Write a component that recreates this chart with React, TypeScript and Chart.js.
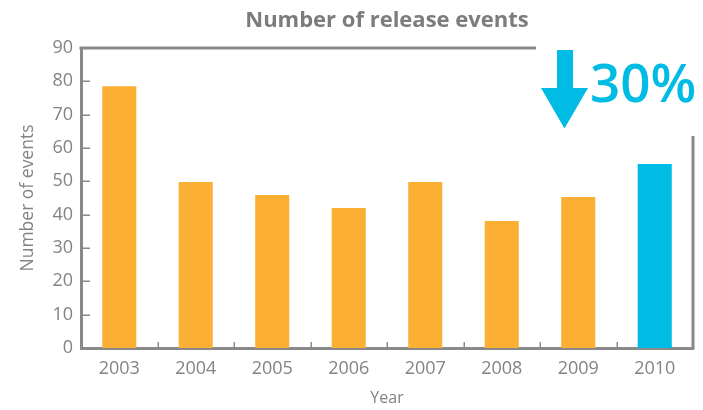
import React, { useEffect, useRef } from "react";
import { Chart, registerables } from "chart.js";

Chart.register(...registerables);

const years = ["2003", "2004", "2005", "2006", "2007", "2008", "2009", "2010"];
const events = [78.5, 49.8, 45.9, 42.0, 49.8, 38.1, 45.3, 55.2];
const barColors = ["#FBB034", "#FBB034", "#FBB034", "#FBB034", "#FBB034", "#FBB034", "#FBB034", "#00BCE4"];
const yTicks = [0, 10, 20, 30, 40, 50, 60, 70, 80, 90];
const titleText = "Number of release events";
const changeText = "30%";

const GRAY = "#838386";
const AXIS = "#89898C";
const FONT = "'Open Sans', 'Noto Sans', sans-serif";

const decorPlugin = {
  id: "decor",
  afterDraw(chart: any) {
    const ctx = chart.ctx;
    const area = chart.chartArea;
    const xs = chart.scales.x;
    const ys = chart.scales.y;
    ctx.save();
    // title
    ctx.fillStyle = "#7C7C7F";
    ctx.font = `bold 22px ${FONT}`;
    ctx.textAlign = "center";
    ctx.textBaseline = "alphabetic";
    ctx.fillText(titleText, (area.left + area.right) / 2, 27);

    ctx.strokeStyle = AXIS;
    // top border (partial)
    ctx.lineWidth = 3;
    ctx.beginPath();
    ctx.moveTo(area.left - 1.5, area.top);
    ctx.lineTo(536, area.top);
    ctx.stroke();
    // right border (partial)
    ctx.beginPath();
    ctx.moveTo(area.right, 136);
    ctx.lineTo(area.right, area.bottom + 1.5);
    ctx.stroke();

    // inner y ticks
    ctx.lineWidth = 1.5;
    for (const v of yTicks) {
      if (v === 0 || v === 90) continue;
      const y = Math.round(ys.getPixelForValue(v)) + 0.25;
      ctx.beginPath();
      ctx.moveTo(area.left, y);
      ctx.lineTo(area.left + 9, y);
      ctx.stroke();
    }
    // inner x ticks between categories
    for (let i = 0; i < years.length - 1; i++) {
      const x = Math.round((xs.getPixelForValue(i) + xs.getPixelForValue(i + 1)) / 2) + 0.25;
      ctx.beginPath();
      ctx.moveTo(x, area.bottom);
      ctx.lineTo(x, area.bottom - 6);
      ctx.stroke();
    }

    // arrow
    ctx.fillStyle = "#00BCE4";
    ctx.beginPath();
    ctx.moveTo(557, 50);
    ctx.lineTo(573, 50);
    ctx.lineTo(573, 88);
    ctx.lineTo(588, 88);
    ctx.lineTo(564.5, 128.5);
    ctx.lineTo(541, 88);
    ctx.lineTo(557, 88);
    ctx.closePath();
    ctx.fill();

    ctx.font = `600 53px ${FONT}`;
    ctx.textAlign = "left";
    ctx.fillText(changeText, 590, 101.5);
    ctx.restore();
  },
};

export default function App() {
  const ref = useRef<HTMLCanvasElement | null>(null);
  useEffect(() => {
    if (!ref.current) return;
    const chart = new Chart(ref.current, {
      type: "bar",
      data: {
        labels: years,
        datasets: [
          {
            data: events,
            backgroundColor: barColors,
            borderWidth: 0,
            barPercentage: 0.445,
            categoryPercentage: 1,
          },
        ],
      },
      options: {
        animation: false,
        responsive: false,
        layout: { padding: { top: 48, right: 10, left: 0, bottom: 0 } },
        plugins: { legend: { display: false }, tooltip: { enabled: false }, title: { display: false } },
        scales: {
          x: {
            grid: { display: false, drawTicks: false, tickLength: 0 },
            border: { display: true, color: AXIS, width: 3 },
            ticks: { color: GRAY, font: { family: FONT, size: 18 }, padding: 10, maxRotation: 0 },
            title: {
              display: true,
              text: "Year",
              color: GRAY,
              font: { family: FONT, size: 16, lineHeight: 1 },
              padding: { top: 0, bottom: 4 },
            },
            afterFit: (s: any) => {
              s.height = 62;
            },
          },
          y: {
            min: 0,
            max: 90,
            afterBuildTicks: (s: any) => {
              s.ticks = yTicks.map((v) => ({ value: v }));
            },
            grid: { display: false, drawTicks: false, tickLength: 0 },
            border: { display: true, color: AXIS, width: 3 },
            ticks: { color: GRAY, font: { family: FONT, size: 18 }, padding: 8 },
            title: {
              display: true,
              text: "Number of events",
              color: GRAY,
              font: { family: FONT, size: 17.5, lineHeight: 1 },
              padding: { top: 19, bottom: 0 },
            },
            afterFit: (s: any) => {
              s.width = 81;
            },
          },
        },
      },
      plugins: [decorPlugin],
    });
    return () => chart.destroy();
  }, []);
  return (
    <div style={{ position: "fixed", left: 0, top: 0, width: 703, height: 410, background: "#fff" }}>
      <canvas ref={ref} width={703} height={410} style={{ display: "block" }} />
    </div>
  );
}
